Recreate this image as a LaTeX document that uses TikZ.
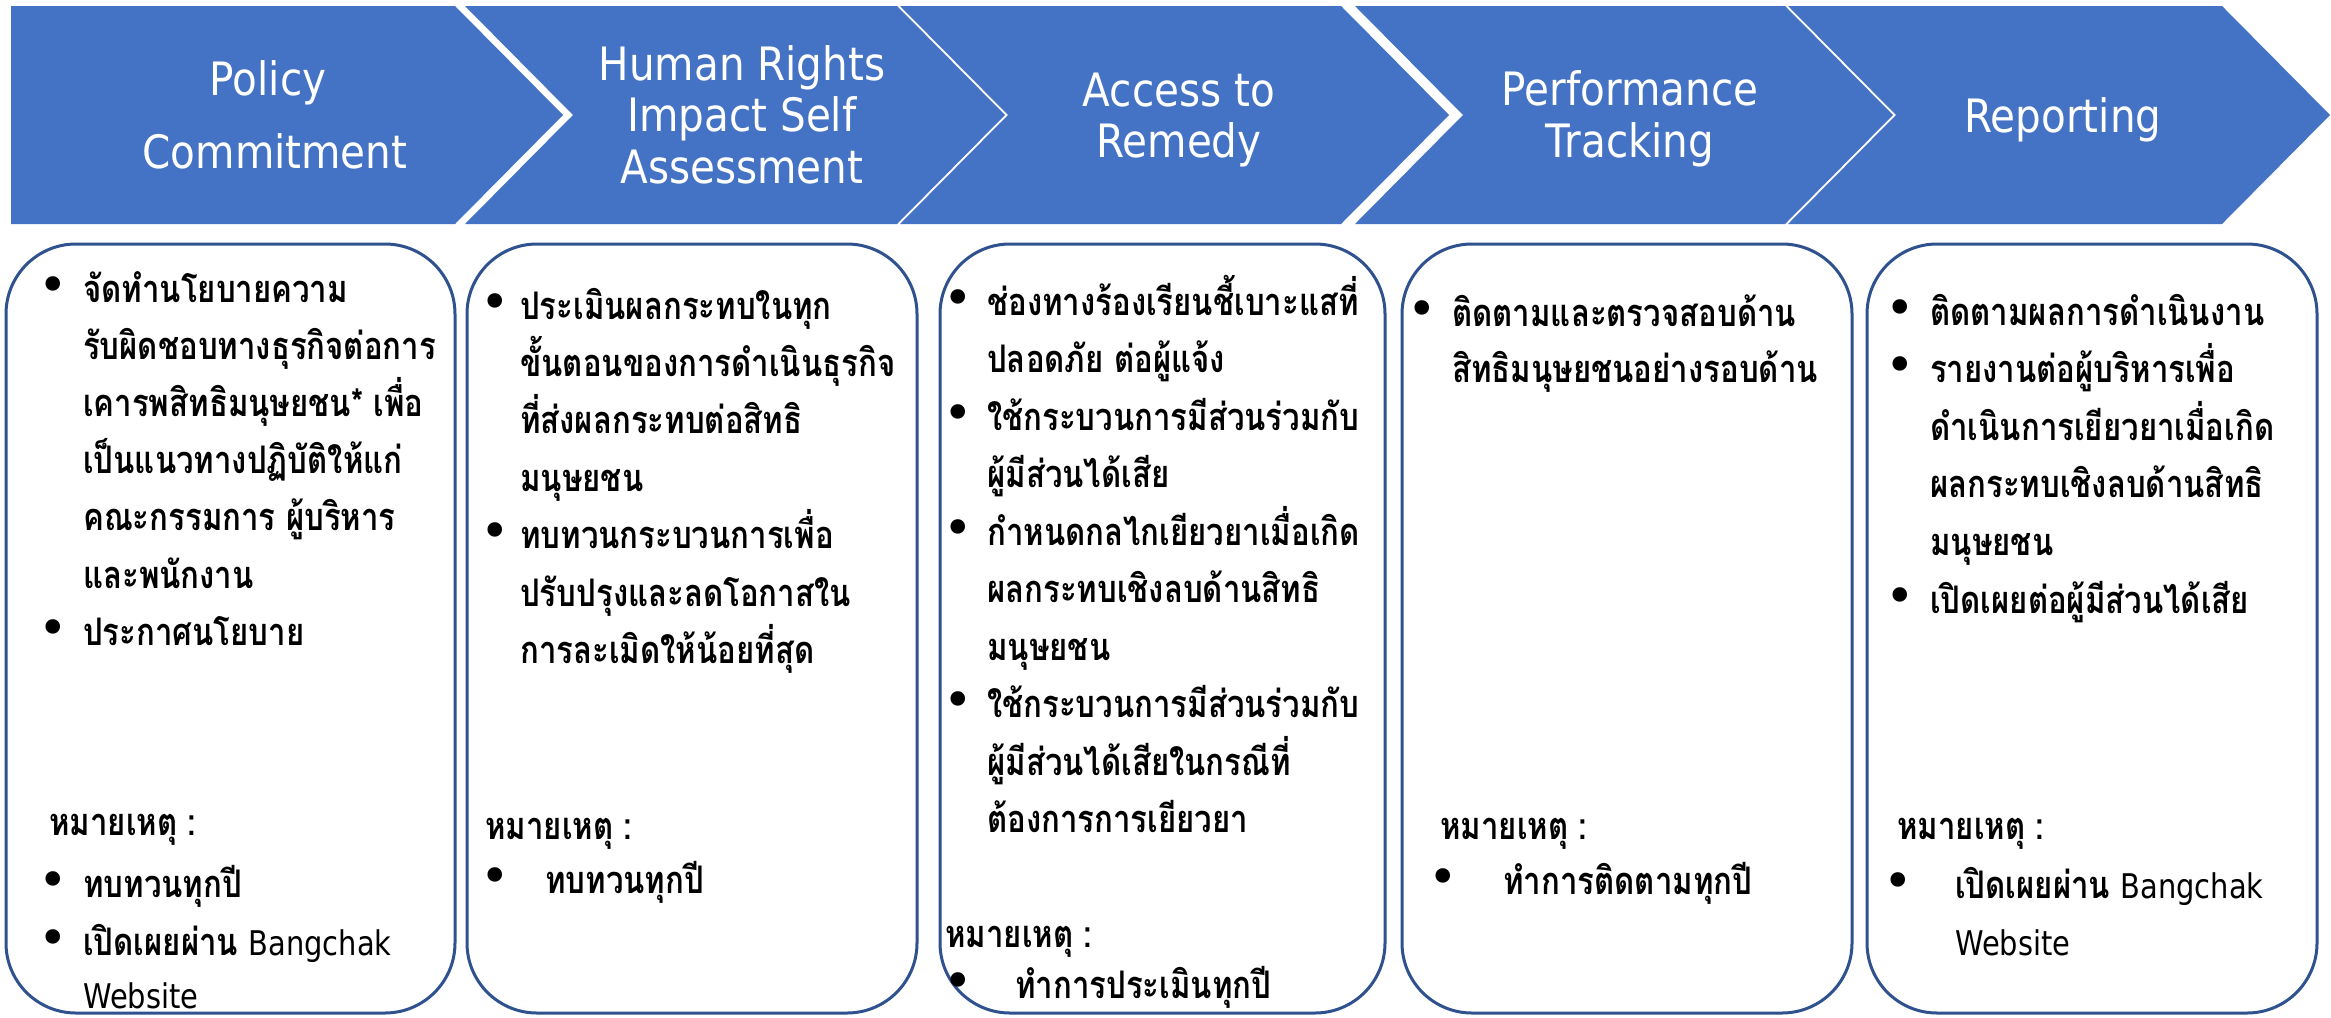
\documentclass[tikz,border=0pt]{standalone}
\usepackage{fontspec}
\newfontfamily\thaifont[Script=Thai,FakeStretch=0.82]{Loma}
\newfontfamily\titlefont[FakeStretch=0.88]{DejaVu Sans}
\newfontfamily\latinfont[FakeStretch=0.85]{DejaVu Sans}
\newfontfamily\bulfont{DejaVu Sans}
\definecolor{chevblue}{HTML}{4472C4}
\definecolor{panelline}{HTML}{2F528F}
\tikzset{
  chev/.style={fill=chevblue, draw=none},
  ttl/.style={text=white, anchor=base, inner sep=0pt, font=\titlefont\fontsize{46}{50}\selectfont},
  panel/.style={draw=panelline, line width=3pt, rounded corners=70pt},
  ln/.style={anchor=base west, inner sep=0pt, font=\thaifont\bfseries\fontsize{38}{44}\selectfont},
  bulstyle/.style={anchor=base, inner sep=0pt, font=\bulfont\fontsize{50}{54}\selectfont},
}
\newcommand\plines[5]{%
  \foreach \myline [count=\i from 0] in {#5} {\node[ln] (#1\i) at (#2, #3+#4*\i) {\myline};}}
\newcommand\bul[3]{\node[bulstyle] (#1) at (#2,#3) {•};}
\newcommand\lat[1]{{\latinfont\mdseries\fontsize{34}{40}\selectfont #1}}
\begin{document}
\begin{tikzpicture}[x=1pt,y=-1pt]
\useasboundingbox (0,0) rectangle (2331,1017);
\fill[white] (0,0) rectangle (2331,1017);
% chevrons
\fill[chev] (11,6) -- (455,6) -- (563,115) -- (455,224) -- (11,224) -- cycle;
\fill[chev] (465,6) -- (897,6) -- (1005,115) -- (897,224) -- (465,224) -- (573,115) -- cycle;
\fill[chev] (900,6) -- (1341,6) -- (1449,115) -- (1341,224) -- (900,224) -- (1008,115) -- cycle;
\fill[chev] (1355,6) -- (1785,6) -- (1893,115) -- (1785,224) -- (1355,224) -- (1463,115) -- cycle;
\fill[chev] (1788,6) -- (2222,6) -- (2330,115) -- (2222,224) -- (1788,224) -- (1896,115) -- cycle;
% titles
\node[ttl] (t1a) at (268,95) {Policy};
\node[ttl] (t1b) at (275,168) {Commitment};
\node[ttl] (t2a) at (742,80) {Human Rights};
\node[ttl] (t2b) at (742,131) {Impact Self};
\node[ttl] (t2c) at (742,183) {Assessment};
\node[ttl] (t3a) at (1179,106) {Access to};
\node[ttl] (t3b) at (1179,157) {Remedy};
\node[ttl] (t4a) at (1630,105) {Performance};
\node[ttl] (t4b) at (1630,157) {Tracking};
\node[ttl] (t5a) at (2063,132) {Reporting};
% panels
\draw[panel] (6,244) rectangle (455,1013);
\draw[panel] (467,244) rectangle (917,1013);
\draw[panel] (940,244) rectangle (1385,1013);
\draw[panel] (1402,244) rectangle (1852,1013);
\draw[panel] (1867,244) rectangle (2317,1013);
% panel 1
\plines{pa}{83}{302}{57.2}{จัดทำนโยบายความ,รับผิดชอบทางธุรกิจต่อการ,เคารพสิทธิมนุษยชน* เพื่อ,เป็นแนวทางปฏิบัติให้แก่,คณะกรรมการ ผู้บริหาร,และพนักงาน,ประกาศนโยบาย}
\bul{pab1}{53}{302}
\bul{pab2}{53}{645}
\node[ln] (pan) at (49,835) {หมายเหตุ :};
\bul{pab3}{53}{897}
\node[ln] (pan1) at (83,897) {ทบทวนทุกปี};
\bul{pab4}{53}{955}
\node[ln] (pan2) at (83,955) {เปิดเผยผ่าน \lat{Bangchak}};
\node[ln] (pan3) at (83,1008) {\lat{Website}};
% panel 2
\plines{pb}{520}{319}{57.4}{ประเมินผลกระทบในทุก,ขั้นตอนของการดำเนินธุรกิจ,ที่ส่งผลกระทบต่อสิทธิ,มนุษยชน,ทบทวนกระบวนการเพื่อ,ปรับปรุงและลดโอกาสใน,การละเมิดให้น้อยที่สุด}
\bul{pbb1}{495}{319}
\bul{pbb2}{495}{548.6}
\node[ln] (pbn) at (485,839) {หมายเหตุ :};
\bul{pbb3}{495}{893}
\node[ln] (pbn1) at (545,893) {ทบทวนทุกปี};
% panel 3
\plines{pc}{987}{315}{57.5}{ช่องทางร้องเรียนชี้เบาะแสที่,ปลอดภัย ต่อผู้แจ้ง,ใช้กระบวนการมีส่วนร่วมกับ,ผู้มีส่วนได้เสีย,กำหนดกลไกเยียวยาเมื่อเกิด,ผลกระทบเชิงลบด้านสิทธิ,มนุษยชน,ใช้กระบวนการมีส่วนร่วมกับ,ผู้มีส่วนได้เสียในกรณีที่,ต้องการการเยียวยา}
\bul{pcb1}{958}{315}
\bul{pcb2}{958}{430}
\bul{pcb3}{958}{545}
\bul{pcb4}{958}{717.5}
\node[ln] (pcn) at (945,947) {หมายเหตุ :};
\bul{pcb5}{958}{998}
\node[ln] (pcn1) at (1015,998) {ทำการประเมินทุกปี};
% panel 4
\plines{pd}{1452}{326}{56}{ติดตามและตรวจสอบด้าน,สิทธิมนุษยชนอย่างรอบด้าน}
\bul{pdb1}{1422}{326}
\node[ln] (pdn) at (1440,839) {หมายเหตุ :};
\bul{pdb2}{1443}{894}
\node[ln] (pdn1) at (1503,894) {ทำการติดตามทุกปี};
% panel 5
\plines{pe}{1930}{325}{57.6}{ติดตามผลการดำเนินงาน,รายงานต่อผู้บริหารเพื่อ,ดำเนินการเยียวยาเมื่อเกิด,ผลกระทบเชิงลบด้านสิทธิ,มนุษยชน,เปิดเผยต่อผู้มีส่วนได้เสีย}
\bul{peb1}{1900}{325}
\bul{peb2}{1900}{382.6}
\bul{peb3}{1900}{613}
\node[ln] (pen) at (1897,839) {หมายเหตุ :};
\bul{peb4}{1898}{898}
\node[ln] (pen1) at (1955,898) {เปิดเผยผ่าน \lat{Bangchak}};
\node[ln] (pen2) at (1955,955) {\lat{Website}};
\end{tikzpicture}
\end{document}
